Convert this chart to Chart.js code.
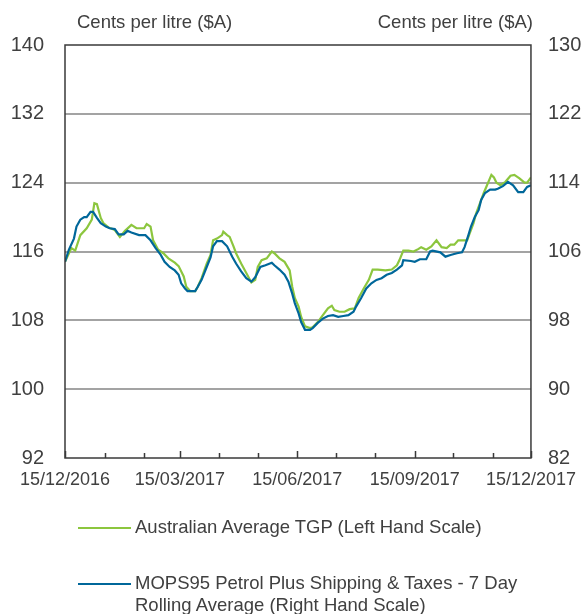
<!DOCTYPE html>
<html>
<head>
<meta charset="utf-8">
<script src="https://cdn.jsdelivr.net/npm/chart.js@4/dist/chart.umd.min.js"></script>
<style>
  body { margin: 0; background: #fff; font-family: "Liberation Sans", Arial, sans-serif; color: #404040; }
  #wrap { position: relative; width: 587px; height: 614px; }
  #chart { position: absolute; left: 0; top: 0; }
  .unit { position: absolute; top: 11px; font-size: 18.5px; }
  .leg { position: absolute; left: 78px; font-size: 18.5px; line-height: 22px; }
  .leg span.sw { position: absolute; left: 0; top: 11px; width: 53px; height: 2px; }
  .leg div { margin-left: 57px; }
</style>
</head>
<body>
<div id="wrap">
  <canvas id="chart" width="587" height="614"></canvas>
  <div class="unit" style="left:77px">Cents per litre ($A)</div>
  <div class="unit" style="right:54px">Cents per litre ($A)</div>
  <div class="leg" style="top:516px"><span class="sw" style="background:#8cc63e"></span><div>Australian Average TGP (Left Hand Scale)</div></div>
  <div class="leg" style="top:572px"><span class="sw" style="background:#00679a"></span><div>MOPS95 Petrol Plus Shipping &amp; Taxes - 7 Day<br>Rolling Average (Right Hand Scale)</div></div>
</div>
<script>
// days counted from 15/12/2016
const monthDays = [0, 31, 62, 90, 121, 151, 182, 212, 243, 274, 304, 335, 365];
const labelDays = [0, 90, 182, 274, 365];
const dateLabels = ['15/12/2016', '15/03/2017', '15/06/2017', '15/09/2017', '15/12/2017'];

// Australian Average TGP, cents per litre (left scale)
const tgpDays = [0, 5, 8, 12, 17, 21, 23, 25, 28, 30, 34, 39, 43, 47, 52, 56, 62, 64, 67, 69, 73, 77, 81, 86, 89,
  93, 95, 98, 102, 104, 107, 111, 114, 116, 119, 123, 124, 127, 129, 132, 134, 138, 142, 146, 149, 151, 154, 158,
  162, 164, 168, 172, 176, 178, 180, 183, 185, 188, 192, 194, 198, 202, 206, 209, 211, 215, 219, 223, 227, 230,
  234, 238, 241, 245, 251, 256, 260, 262, 265, 269, 273, 277, 279, 283, 287, 291, 295, 299, 302, 305, 308, 315,
  317, 320, 322, 325, 328, 330, 334, 336, 338, 341, 345, 349, 352, 356, 360, 362, 365];
const tgpValues = [114.8, 116.4, 116.1, 117.9, 118.7, 119.7, 121.6, 121.5, 119.9, 119.3, 118.8, 118.5, 117.7, 118.4, 119.1, 118.7, 118.7, 119.2, 118.9, 117.3, 116.2, 115.8, 115.2, 114.7, 114.3,
  113.1, 111.9, 111.4, 111.4, 111.9, 112.9, 114.6, 115.6, 117.3, 117.5, 117.9, 118.3, 117.9, 117.7, 116.6, 115.8, 114.6, 113.5, 112.4, 112.7, 114.2, 115.0, 115.2,
  116.0, 115.8, 115.2, 114.8, 113.8, 111.9, 110.6, 109.6, 108.4, 107.3, 107.1, 107.2, 107.8, 108.6, 109.4, 109.7, 109.2, 109.0, 109.0, 109.3, 109.4, 110.6,
  111.7, 112.7, 113.9, 113.9, 113.8, 113.9, 114.4, 115.0, 116.1, 116.1, 116.0, 116.3, 116.5, 116.2, 116.6, 117.3, 116.5, 116.4, 116.8, 116.8, 117.3, 117.3,
  118.1, 119.3, 120.4, 121.6, 122.8, 123.5, 124.9, 124.6, 124.0, 123.7, 124.1, 124.8, 124.9, 124.5, 124.0, 124.0, 124.6];

// MOPS95 + shipping & taxes, 7 day rolling average, cents per litre (right scale)
const mopsDays = [0, 3, 7, 9, 12, 15, 17, 20, 22, 25, 28, 32, 35, 39, 42, 46, 49, 52, 58, 63, 67, 71, 75, 78, 82, 86,
  89, 91, 94, 96, 102, 104, 107, 111, 114, 116, 119, 123, 127, 131, 134, 138, 142, 146, 149, 153, 157, 162, 164,
  168, 172, 175, 178, 180, 183, 185, 188, 192, 194, 198, 202, 206, 210, 214, 218, 222, 226, 228, 232, 236, 240,
  244, 248, 252, 256, 260, 264, 265, 271, 274, 278, 283, 286, 288, 294, 298, 302, 307, 311, 313, 316, 318, 321,
  324, 326, 329, 333, 337, 339, 343, 347, 351, 355, 359, 362, 365];
const mopsValues = [104.8, 106.2, 107.5, 108.9, 109.7, 110.0, 110.0, 110.6, 110.6, 109.9, 109.3, 108.9, 108.7, 108.6, 108.0, 108.0, 108.4, 108.2, 107.9, 107.9, 107.3, 106.4, 105.6, 104.8, 104.2, 103.8,
  103.3, 102.3, 101.7, 101.4, 101.4, 101.9, 102.7, 104.2, 105.3, 106.6, 107.2, 107.2, 106.6, 105.4, 104.6, 103.7, 102.9, 102.5, 103.0, 104.2, 104.4, 104.7, 104.4,
  103.9, 103.3, 102.5, 101.1, 100.0, 98.8, 97.8, 96.9, 96.9, 97.1, 97.7, 98.2, 98.5, 98.6, 98.4, 98.5, 98.6, 99.0, 99.6, 100.6, 101.7, 102.3,
  102.7, 102.9, 103.3, 103.5, 103.9, 104.4, 105.0, 104.9, 104.8, 105.1, 105.1, 106.0, 106.1, 105.9, 105.4, 105.6, 105.8, 105.9, 106.5, 107.9, 108.9, 110.0,
  110.8, 112.0, 112.8, 113.2, 113.2, 113.3, 113.6, 114.1, 113.7, 112.9, 112.9, 113.5, 113.7];

const textColor = '#404040';

const frame = {
  id: 'frame',
  afterDatasetsDraw(chart) {
    const { ctx, chartArea: a, scales } = chart;
    ctx.save();
    ctx.strokeStyle = '#3a3a3a';
    ctx.lineWidth = 1.5;
    ctx.strokeRect(a.left, a.top, a.right - a.left, a.bottom - a.top);
    ctx.beginPath();
    monthDays.forEach(d => {
      const x = Math.round(scales.x.getPixelForValue(d)) + 0.5;
      const len = labelDays.includes(d) ? 7 : 5;
      ctx.moveTo(x, a.bottom);
      ctx.lineTo(x, a.bottom - len);
    });
    ctx.stroke();
    ctx.restore();
  }
};

new Chart(document.getElementById('chart'), {
  type: 'line',
  data: {
    datasets: [
      {
        label: 'MOPS95 Petrol Plus Shipping & Taxes - 7 Day Rolling Average (Right Hand Scale)',
        data: mopsDays.map((d, i) => ({ x: d, y: mopsValues[i] })),
        yAxisID: 'y2', borderColor: '#00679a', borderWidth: 2.2, pointRadius: 0, tension: 0, order: 1
      },
      {
        label: 'Australian Average TGP (Left Hand Scale)',
        data: tgpDays.map((d, i) => ({ x: d, y: tgpValues[i] })),
        yAxisID: 'y', borderColor: '#8cc63e', borderWidth: 2.2, pointRadius: 0, tension: 0, order: 2
      }
    ]
  },
  options: {
    responsive: false,
    animation: false,
    layout: { padding: { top: 45, left: 0, right: 0, bottom: 0 } },
    plugins: { legend: { display: false }, tooltip: { enabled: false } },
    scales: {
      x: {
        type: 'linear', min: 0, max: 365,
        afterBuildTicks: s => { s.ticks = labelDays.map(v => ({ value: v })); },
        afterFit: s => { s.height = 156; },
        ticks: {
          autoSkip: false, maxRotation: 0, padding: 11, color: textColor,
          font: { family: 'Liberation Sans', size: 18 },
          callback: v => dateLabels[labelDays.indexOf(v)]
        },
        grid: { display: false, drawTicks: false },
        border: { display: false }
      },
      y: {
        position: 'left', min: 92, max: 140,
        afterFit: s => { s.width = 65; },
        ticks: { stepSize: 8, padding: 21, color: textColor, font: { family: 'Liberation Sans', size: 20 } },
        grid: {
          drawTicks: false, lineWidth: 2,
          color: c => (c.tick.value === 92 || c.tick.value === 140) ? 'rgba(0,0,0,0)' : '#a3a3a3'
        },
        border: { display: false }
      },
      y2: {
        position: 'right', min: 82, max: 130,
        afterFit: s => { s.width = 56; },
        ticks: { stepSize: 8, padding: 17, color: textColor, font: { family: 'Liberation Sans', size: 20 } },
        grid: { drawOnChartArea: false, drawTicks: false },
        border: { display: false }
      }
    }
  },
  plugins: [frame]
});
</script>
</body>
</html>
